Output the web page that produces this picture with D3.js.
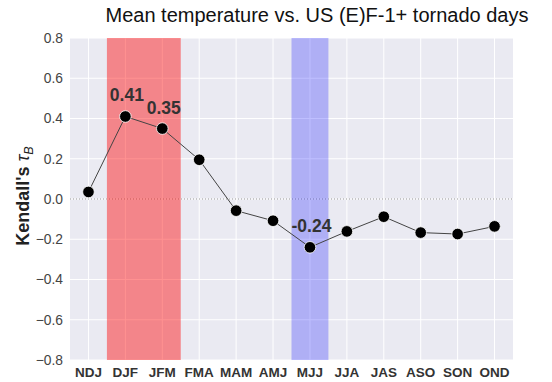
<!DOCTYPE html>
<html>
<head>
<meta charset="utf-8">
<script src="https://cdn.jsdelivr.net/npm/d3@7"></script>
<style>
  body { margin: 0; background: #fff; }
  text { font-family: "Liberation Sans", Arial, sans-serif; }
</style>
</head>
<body>
<div id="chart"></div>
<script>
// DATA //
const seasons = ["NDJ", "DJF", "JFM", "FMA", "MAM", "AMJ", "MJJ", "JJA", "JAS", "ASO", "SON", "OND"];
const tau = [0.035, 0.41, 0.35, 0.195, -0.058, -0.108, -0.24, -0.161, -0.088, -0.167, -0.174, -0.136];
const yTicks = [-0.8, -0.6, -0.4, -0.2, 0.0, 0.2, 0.4, 0.6, 0.8];
const redSeasons = ["DJF", "JFM"];
const blueSeasons = ["MJJ"];
const labelled = { DJF: "0.41", JFM: "0.35", MJJ: "-0.24" };

// DIMENSIONS //
const dimensions = { width: 552, height: 382 };
dimensions.margin = { top: 38, right: 39, bottom: 22, left: 70 };
dimensions.boundedWidth = dimensions.width - dimensions.margin.left - dimensions.margin.right;
dimensions.boundedHeight = dimensions.height - dimensions.margin.top - dimensions.margin.bottom;

const svg = d3
  .select("#chart")
  .append("svg")
  .attr("width", dimensions.width)
  .attr("height", dimensions.height);

const bounds = svg
  .append("g")
  .attr("transform", `translate(${dimensions.margin.left},${dimensions.margin.top})`);

// SCALES //
const xBand = d3.scaleBand().domain(seasons).range([0, dimensions.boundedWidth]).padding(0);
const xScale = (d) => xBand(d) + xBand.bandwidth() / 2;
const yScale = d3.scaleLinear().domain([-0.8, 0.8]).range([dimensions.boundedHeight, 0]);

// Background
bounds
  .append("rect")
  .attr("width", dimensions.boundedWidth)
  .attr("height", dimensions.boundedHeight)
  .attr("fill", "#eaeaf2");

// Grid lines
bounds
  .selectAll(".hgrid")
  .data(yTicks)
  .join("line")
  .attr("x1", 0)
  .attr("x2", dimensions.boundedWidth)
  .attr("y1", (d) => yScale(d))
  .attr("y2", (d) => yScale(d))
  .attr("stroke", "#fff")
  .attr("stroke-width", 1);

bounds
  .selectAll(".vgrid")
  .data(seasons)
  .join("line")
  .attr("x1", (d) => xScale(d))
  .attr("x2", (d) => xScale(d))
  .attr("y1", 0)
  .attr("y2", dimensions.boundedHeight)
  .attr("stroke", "#fff")
  .attr("stroke-width", 1);

// Zero line
bounds
  .append("line")
  .attr("x1", 0)
  .attr("x2", dimensions.boundedWidth)
  .attr("y1", yScale(0))
  .attr("y2", yScale(0))
  .attr("stroke", "#999")
  .attr("stroke-width", 1)
  .attr("stroke-dasharray", "1,2");

// Highlight spans
function addSpan(list, color, opacity) {
  const x0 = d3.min(list, (d) => xBand(d));
  const x1 = d3.max(list, (d) => xBand(d) + xBand.bandwidth());
  bounds
    .append("rect")
    .attr("x", x0)
    .attr("width", x1 - x0)
    .attr("y", 0)
    .attr("height", dimensions.boundedHeight)
    .attr("fill", color)
    .attr("fill-opacity", opacity);
}
addSpan(redSeasons, "#ff0000", 0.43);
addSpan(blueSeasons, "#0000ff", 0.25);

// Line
const line = d3
  .line()
  .x((d, i) => xScale(seasons[i]))
  .y((d) => yScale(d));

bounds
  .append("path")
  .datum(tau)
  .attr("d", line)
  .attr("fill", "none")
  .attr("stroke", "#444")
  .attr("stroke-width", 1);

// Points
bounds
  .selectAll(".pt")
  .data(tau)
  .join("circle")
  .attr("cx", (d, i) => xScale(seasons[i]))
  .attr("cy", (d) => yScale(d))
  .attr("r", 5.8)
  .attr("fill", "#000")
  .attr("stroke", "#fff")
  .attr("stroke-width", 0.8);

// Value labels
bounds
  .selectAll(".lbl")
  .data(seasons.filter((s) => labelled[s]))
  .join("text")
  .attr("x", (d) => xScale(d) + 1.5)
  .attr("y", (d) => yScale(tau[seasons.indexOf(d)]) - 15)
  .attr("text-anchor", "middle")
  .attr("font-size", 17.5)
  .attr("font-weight", "bold")
  .attr("fill", "#333")
  .text((d) => labelled[d]);

// Y tick labels
bounds
  .selectAll(".ytick")
  .data(yTicks)
  .join("text")
  .attr("x", -7)
  .attr("y", (d) => yScale(d))
  .attr("dy", "0.35em")
  .attr("text-anchor", "end")
  .attr("font-size", 13.8)
  .attr("fill", "#444")
  .text((d) => (d < 0 ? "\u2212" : "") + Math.abs(d).toFixed(1));

// X tick labels
bounds
  .selectAll(".xtick")
  .data(seasons)
  .join("text")
  .attr("x", (d) => xScale(d))
  .attr("y", dimensions.boundedHeight + 17)
  .attr("text-anchor", "middle")
  .attr("font-size", 13.5)
  .attr("font-weight", "bold")
  .attr("fill", "#333")
  .text((d) => d);

// Y axis title
const yTitle = svg
  .append("text")
  .attr("transform", `translate(29,${dimensions.margin.top + yScale(0) - 3}) rotate(-90)`)
  .attr("text-anchor", "middle")
  .attr("font-size", 18)
  .attr("font-weight", "bold")
  .attr("fill", "#222");
yTitle.append("tspan").text("Kendall's ");
yTitle.append("tspan").attr("font-weight", "normal").attr("font-style", "italic").text("\u03c4");
yTitle
  .append("tspan")
  .attr("font-weight", "normal")
  .attr("font-style", "italic")
  .attr("font-size", 12.5)
  .attr("dy", 4)
  .text("B");

// Chart title
svg
  .append("text")
  .attr("x", 317)
  .attr("y", 22)
  .attr("text-anchor", "middle")
  .attr("font-size", 20)
  .attr("fill", "#111")
  .text("Mean temperature vs. US (E)F-1+ tornado days");
</script>
</body>
</html>
